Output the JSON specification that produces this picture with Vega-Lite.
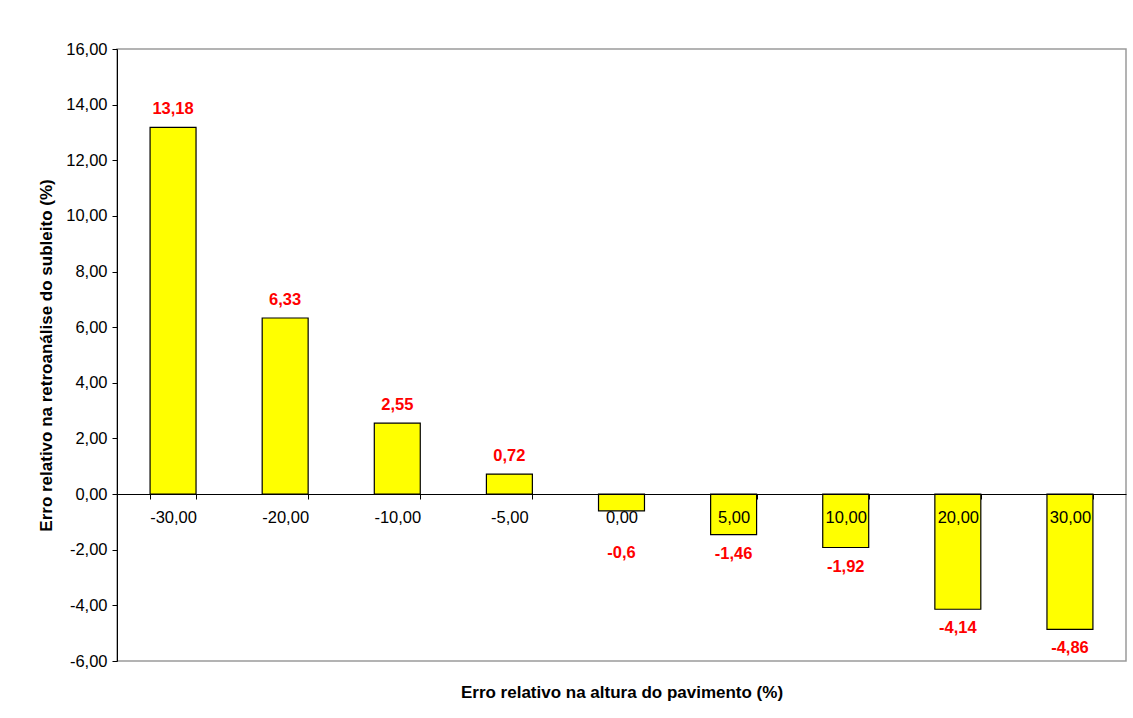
{
  "$schema": "https://vega.github.io/schema/vega-lite/v6.json",
  "width": 1009,
  "height": 612,
  "autosize": {"type": "none"},
  "padding": {"left": 117, "top": 49, "right": 7, "bottom": 57},
  "background": "white",
  "config": {
    "view": {"stroke": "#9a9a9a", "strokeWidth": 1.5},
    "font": "Liberation Sans"
  },
  "data": {
    "values": [
      {"cat": "-30,00", "value": 13.18, "label": "13,18"},
      {"cat": "-20,00", "value": 6.33, "label": "6,33"},
      {"cat": "-10,00", "value": 2.55, "label": "2,55"},
      {"cat": "-5,00", "value": 0.72, "label": "0,72"},
      {"cat": "0,00", "value": -0.6, "label": "-0,6"},
      {"cat": "5,00", "value": -1.46, "label": "-1,46"},
      {"cat": "10,00", "value": -1.92, "label": "-1,92"},
      {"cat": "20,00", "value": -4.14, "label": "-4,14"},
      {"cat": "30,00", "value": -4.86, "label": "-4,86"}
    ]
  },
  "encoding": {
    "x": {
      "field": "cat",
      "type": "nominal",
      "sort": null,
      "scale": {"paddingInner": 0.59, "paddingOuter": 0.295},
      "axis": {
        "title": "Erro relativo na altura do pavimento (%)",
        "titleFont": "Liberation Sans",
        "titleFontSize": 17,
        "titleFontWeight": "bold",
        "titleColor": "black",
        "titleY": 198,
        "titleBaseline": "middle",
        "offset": -167,
        "zindex": 1,
        "tickBand": "extent",
        "tickSize": 5,
        "tickColor": "black",
        "domainColor": "black",
        "domainWidth": 1,
        "labelAngle": 0,
        "labelFontSize": 16.5,
        "labelColor": "black",
        "labelPadding": 10,
        "labelFont": "Liberation Sans"
      }
    }
  },
  "layer": [
    {
      "mark": {"type": "bar", "fill": "#FFFF00", "stroke": "black", "strokeWidth": 1.2},
      "encoding": {
        "y": {
          "field": "value",
          "type": "quantitative",
          "scale": {"domain": [-6, 16], "nice": false, "zero": false},
          "axis": {
            "title": "Erro relativo na retroanálise do subleito (%)",
            "titleFont": "Liberation Sans",
            "titleFontSize": 17,
            "titleFontWeight": "bold",
            "titleColor": "black",
            "titlePadding": 10,
            "values": [-6, -4, -2, 0, 2, 4, 6, 8, 10, 12, 14, 16],
            "labelExpr": "replace(replace(format(datum.value, '.2f'), '.', ','), '\u2212', '-')",
            "grid": false,
            "tickSize": 5,
            "tickColor": "black",
            "domainColor": "black",
            "labelFontSize": 16.5,
            "labelColor": "black",
            "labelPadding": 5,
            "labelFont": "Liberation Sans"
          }
        }
      }
    },
    {
      "transform": [{"filter": "datum.value > 0"}],
      "mark": {"type": "text", "dy": -18, "baseline": "middle", "fontSize": 16.5, "fontWeight": "bold", "color": "#FF0000", "font": "Liberation Sans"},
      "encoding": {
        "y": {"field": "value", "type": "quantitative"},
        "text": {"field": "label"}
      }
    },
    {
      "transform": [{"filter": "datum.value < 0 && datum.cat != '0,00'"}],
      "mark": {"type": "text", "dy": 19, "baseline": "middle", "fontSize": 16.5, "fontWeight": "bold", "color": "#FF0000", "font": "Liberation Sans"},
      "encoding": {
        "y": {"field": "value", "type": "quantitative"},
        "text": {"field": "label"}
      }
    },
    {
      "transform": [{"filter": "datum.cat == '0,00'"}],
      "mark": {"type": "text", "dy": 42, "baseline": "middle", "fontSize": 16.5, "fontWeight": "bold", "color": "#FF0000", "font": "Liberation Sans"},
      "encoding": {
        "y": {"field": "value", "type": "quantitative"},
        "text": {"field": "label"}
      }
    }
  ]
}
